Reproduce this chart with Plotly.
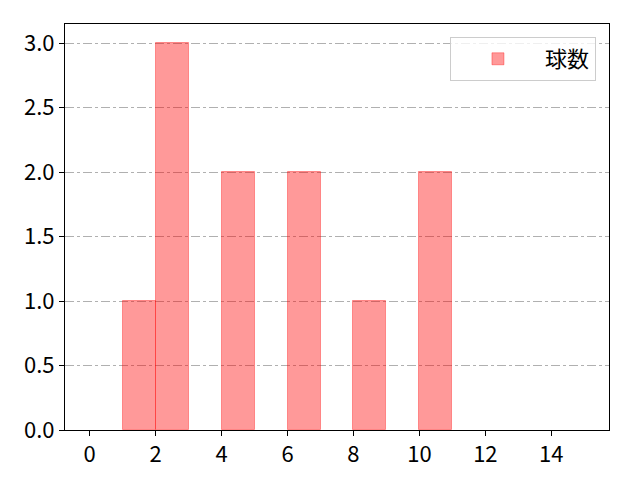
import plotly.graph_objects as go

bin_left = [1, 2, 4, 6, 8, 10]
counts = [1, 3, 2, 2, 1, 2]
bin_width = 1
series_name = "球数"
x_ticks = [0, 2, 4, 6, 8, 10, 12, 14]
y_ticks = [0.0, 0.5, 1.0, 1.5, 2.0, 2.5, 3.0]

fig = go.Figure()
fig.add_trace(go.Bar(
    x=[b + bin_width / 2 for b in bin_left],
    y=counts,
    width=bin_width,
    name=series_name,
    showlegend=True,
    marker=dict(color="rgba(255,0,0,0.4)", line=dict(color="rgba(255,0,0,0.35)", width=1)),
))

font = "Noto Sans CJK JP, DejaVu Sans, sans-serif"
fig.update_layout(
    width=632, height=472,
    margin=dict(l=57, r=31, t=16, b=48),
    paper_bgcolor="white", plot_bgcolor="white",
    font=dict(family=font, size=22, color="black"),
    bargap=0,
    legend=dict(
        x=0.976, y=0.968, xanchor="right", yanchor="top",
        bordercolor="#cccccc", borderwidth=1, bgcolor="rgba(255,255,255,0.8)",
        font=dict(size=22), itemwidth=84,
    ),
    xaxis=dict(
        range=[-0.75, 15.75], tickmode="array", tickvals=x_ticks,
        ticks="outside", ticklen=5, tickcolor="black",
        showline=True, linecolor="black", linewidth=1, mirror=True,
        showgrid=False, zeroline=False,
    ),
    yaxis=dict(
        range=[0, 3.15], tickmode="array", tickvals=y_ticks, tickformat=".1f",
        ticks="outside", ticklen=5, tickcolor="black",
        showline=True, linecolor="black", linewidth=1, mirror=True,
        showgrid=True, gridcolor="#b0b0b0", griddash="dashdot", gridwidth=1,
        zeroline=False,
    ),
)
fig.write_html("out.html")
